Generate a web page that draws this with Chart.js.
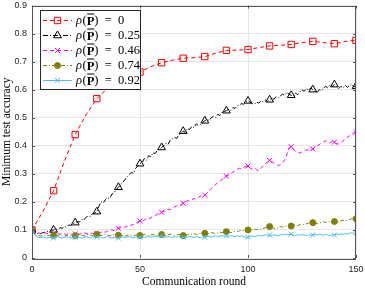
<!DOCTYPE html>
<html>
<head>
<meta charset="utf-8">
<script src="https://cdn.jsdelivr.net/npm/chart.js@4.4.1/dist/chart.umd.min.js"></script>
<style>
  html, body { margin: 0; padding: 0; background: #fff; }
  #wrap { width: 365px; height: 289px; }
</style>
</head>
<body>
<div id="wrap"><canvas id="graficoAcuracia"></canvas></div>
<script>
// Rodadas de comunicação (eixo x)
const rounds = [
  0, 1, 2, 3, 4, 5, 6, 7, 8, 9,
  10, 11, 12, 13, 14, 15, 16, 17, 18, 19,
  20, 21, 22, 23, 24, 25, 26, 27, 28, 29,
  30, 31, 32, 33, 34, 35, 36, 37, 38, 39,
  40, 41, 42, 43, 44, 45, 46, 47, 48, 49,
  50, 51, 52, 53, 54, 55, 56, 57, 58, 59,
  60, 61, 62, 63, 64, 65, 66, 67, 68, 69,
  70, 71, 72, 73, 74, 75, 76, 77, 78, 79,
  80, 81, 82, 83, 84, 85, 86, 87, 88, 89,
  90, 91, 92, 93, 94, 95, 96, 97, 98, 99,
  100, 101, 102, 103, 104, 105, 106, 107, 108, 109,
  110, 111, 112, 113, 114, 115, 116, 117, 118, 119,
  120, 121, 122, 123, 124, 125, 126, 127, 128, 129,
  130, 131, 132, 133, 134, 135, 136, 137, 138, 139,
  140, 141, 142, 143, 144, 145, 146, 147, 148, 149,
  150
];
const roundsRho0 = [0, 5, 10, 15, 20, 25, 30, 35, 40, 45, 50, 55, 60, 65, 70, 75,
  80, 85, 90, 95, 100, 105, 110, 115, 120, 125, 130, 135, 140, 145, 150];

// rho(P) = 0
const accRho0 = [0.100, 0.165, 0.240, 0.345, 0.440, 0.510, 0.568, 0.605, 0.628, 0.648,
  0.663, 0.682, 0.696, 0.705, 0.712, 0.714, 0.718, 0.730, 0.740, 0.741,
  0.743, 0.750, 0.756, 0.758, 0.761, 0.768, 0.772, 0.768, 0.764, 0.772, 0.776];

// rho(P) = 0.25
const accRho025 = [
  0.100, 0.090, 0.086, 0.088, 0.087, 0.090, 0.092, 0.094, 0.096, 0.098,
  0.100, 0.104, 0.102, 0.108, 0.106, 0.112, 0.110, 0.118, 0.116, 0.122,
  0.126, 0.130, 0.128, 0.138, 0.135, 0.145, 0.150, 0.148, 0.158, 0.160,
  0.165, 0.185, 0.200, 0.196, 0.208, 0.215, 0.212, 0.228, 0.232, 0.245,
  0.252, 0.262, 0.270, 0.278, 0.290, 0.298, 0.305, 0.302, 0.320, 0.328,
  0.336, 0.340, 0.355, 0.348, 0.365, 0.360, 0.375, 0.372, 0.384, 0.388,
  0.394, 0.400, 0.410, 0.405, 0.420, 0.425, 0.430, 0.426, 0.440, 0.445,
  0.452, 0.448, 0.462, 0.458, 0.470, 0.465, 0.478, 0.472, 0.476, 0.484,
  0.489, 0.495, 0.490, 0.500, 0.505, 0.500, 0.512, 0.508, 0.520, 0.522,
  0.525, 0.530, 0.526, 0.536, 0.533, 0.542, 0.546, 0.550, 0.548, 0.556,
  0.560, 0.555, 0.550, 0.548, 0.556, 0.552, 0.560, 0.556, 0.564, 0.558,
  0.564, 0.570, 0.566, 0.575, 0.570, 0.578, 0.584, 0.580, 0.590, 0.584,
  0.580, 0.576, 0.588, 0.582, 0.592, 0.600, 0.594, 0.604, 0.598, 0.606,
  0.600, 0.594, 0.590, 0.600, 0.596, 0.606, 0.612, 0.606, 0.618, 0.612,
  0.618, 0.610, 0.604, 0.612, 0.606, 0.616, 0.608, 0.614, 0.620, 0.610,
  0.612
];

// rho(P) = 0.46
const accRho046 = [
  0.100, 0.092, 0.088, 0.090, 0.086, 0.088, 0.090, 0.087, 0.089, 0.086,
  0.088, 0.090, 0.086, 0.085, 0.088, 0.086, 0.084, 0.087, 0.085, 0.083,
  0.086, 0.088, 0.085, 0.087, 0.090, 0.088, 0.085, 0.087, 0.089, 0.086,
  0.088, 0.090, 0.092, 0.094, 0.092, 0.096, 0.098, 0.100, 0.098, 0.104,
  0.106, 0.108, 0.106, 0.110, 0.114, 0.112, 0.118, 0.120, 0.124, 0.128,
  0.132, 0.130, 0.136, 0.140, 0.138, 0.144, 0.148, 0.152, 0.156, 0.160,
  0.163, 0.166, 0.170, 0.174, 0.172, 0.178, 0.182, 0.186, 0.184, 0.190,
  0.195, 0.200, 0.204, 0.202, 0.208, 0.212, 0.210, 0.216, 0.220, 0.222,
  0.224, 0.232, 0.240, 0.248, 0.256, 0.262, 0.268, 0.274, 0.280, 0.286,
  0.292, 0.296, 0.300, 0.306, 0.310, 0.316, 0.320, 0.318, 0.324, 0.326,
  0.328, 0.320, 0.316, 0.322, 0.314, 0.312, 0.320, 0.328, 0.336, 0.342,
  0.348, 0.344, 0.338, 0.334, 0.330, 0.332, 0.340, 0.350, 0.370, 0.392,
  0.397, 0.388, 0.380, 0.376, 0.374, 0.378, 0.382, 0.386, 0.384, 0.388,
  0.389, 0.395, 0.400, 0.404, 0.410, 0.413, 0.418, 0.414, 0.410, 0.416,
  0.413, 0.408, 0.406, 0.412, 0.418, 0.424, 0.430, 0.436, 0.442, 0.446,
  0.448
];

// rho(P) = 0.74
const accRho074 = [
  0.100, 0.088, 0.082, 0.080, 0.078, 0.080, 0.082, 0.079, 0.081, 0.083,
  0.080, 0.078, 0.081, 0.083, 0.080, 0.078, 0.080, 0.082, 0.079, 0.077,
  0.079, 0.082, 0.084, 0.081, 0.079, 0.082, 0.084, 0.082, 0.080, 0.083,
  0.084, 0.082, 0.080, 0.082, 0.084, 0.081, 0.079, 0.081, 0.083, 0.080,
  0.081, 0.083, 0.080, 0.078, 0.081, 0.083, 0.081, 0.079, 0.082, 0.080,
  0.080, 0.082, 0.084, 0.081, 0.079, 0.082, 0.084, 0.082, 0.080, 0.083,
  0.084, 0.082, 0.080, 0.083, 0.085, 0.082, 0.080, 0.082, 0.084, 0.081,
  0.080, 0.082, 0.084, 0.082, 0.085, 0.087, 0.084, 0.086, 0.088, 0.086,
  0.088, 0.086, 0.088, 0.091, 0.089, 0.087, 0.090, 0.092, 0.090, 0.092,
  0.094, 0.092, 0.090, 0.093, 0.096, 0.094, 0.097, 0.099, 0.097, 0.099,
  0.100, 0.098, 0.101, 0.103, 0.101, 0.104, 0.102, 0.105, 0.108, 0.110,
  0.112, 0.110, 0.106, 0.104, 0.108, 0.112, 0.110, 0.113, 0.115, 0.113,
  0.114, 0.116, 0.118, 0.116, 0.119, 0.121, 0.119, 0.122, 0.124, 0.125,
  0.126, 0.124, 0.122, 0.125, 0.127, 0.129, 0.127, 0.130, 0.128, 0.131,
  0.130, 0.132, 0.130, 0.133, 0.135, 0.133, 0.135, 0.137, 0.140, 0.143,
  0.140
];

// rho(P) = 0.92
const accRho092 = [
  0.100, 0.085, 0.078, 0.074, 0.072, 0.075, 0.073, 0.071, 0.074, 0.072,
  0.071, 0.074, 0.076, 0.073, 0.071, 0.074, 0.076, 0.073, 0.071, 0.073,
  0.074, 0.076, 0.073, 0.071, 0.074, 0.076, 0.074, 0.072, 0.075, 0.073,
  0.074, 0.076, 0.073, 0.071, 0.074, 0.076, 0.073, 0.071, 0.073, 0.072,
  0.071, 0.074, 0.076, 0.073, 0.075, 0.077, 0.074, 0.072, 0.075, 0.073,
  0.074, 0.076, 0.073, 0.075, 0.077, 0.074, 0.076, 0.078, 0.075, 0.077,
  0.079, 0.076, 0.074, 0.077, 0.075, 0.073, 0.076, 0.074, 0.076, 0.073,
  0.074, 0.076, 0.074, 0.077, 0.075, 0.073, 0.076, 0.074, 0.072, 0.075,
  0.073, 0.076, 0.078, 0.075, 0.077, 0.079, 0.076, 0.078, 0.080, 0.077,
  0.079, 0.077, 0.080, 0.078, 0.076, 0.079, 0.077, 0.079, 0.076, 0.074,
  0.074, 0.077, 0.079, 0.076, 0.078, 0.080, 0.078, 0.081, 0.083, 0.080,
  0.082, 0.080, 0.083, 0.081, 0.079, 0.082, 0.084, 0.082, 0.085, 0.083,
  0.085, 0.082, 0.080, 0.083, 0.081, 0.084, 0.082, 0.080, 0.083, 0.081,
  0.082, 0.084, 0.082, 0.085, 0.083, 0.081, 0.084, 0.082, 0.080, 0.083,
  0.082, 0.085, 0.083, 0.086, 0.084, 0.087, 0.085, 0.088, 0.090, 0.088,
  0.090
];

// Valores de rho(P) da legenda
const rhoLabels = ['0', '0.25', '0.46', '0.74', '0.92'];

const pts = (xs, ys) => xs.map((x, i) => ({ x: x, y: ys[i] }));
const cada10 = r => ctx => (ctx.raw && ctx.raw.x % 10 === 0 ? r : 0);

function serie(i, xs, ys, cor, tracejado, estilo, tam, fundo, ordem) {
  return {
    label: 'ρ(P̅) = ' + rhoLabels[i],
    data: pts(xs, ys),
    borderColor: cor,
    borderWidth: 1,
    borderDash: tracejado,
    pointStyle: estilo,
    pointRadius: cada10(tam),
    pointHoverRadius: 0,
    pointBorderWidth: 1,
    pointBorderColor: cor,
    pointBackgroundColor: fundo,
    markerSize: tam,
    tension: 0,
    fill: false,
    order: ordem
  };
}

// Moldura e marcas internas (estilo MATLAB)
const moldura = {
  id: 'moldura',
  afterDatasetsDraw(chart) {
    const { ctx, chartArea: a, scales } = chart;
    ctx.save();
    ctx.strokeStyle = '#555';
    ctx.lineWidth = 1;
    ctx.strokeRect(Math.round(a.left) + 0.5, Math.round(a.top) + 0.5,
      Math.round(a.right - a.left) - 1, Math.round(a.bottom - a.top));
    ctx.beginPath();
    scales.y.ticks.forEach(t => {
      const y = Math.round(scales.y.getPixelForValue(t.value)) + 0.5;
      ctx.moveTo(a.left, y); ctx.lineTo(a.left + 3, y);
      ctx.moveTo(a.right, y); ctx.lineTo(a.right - 3, y);
    });
    scales.x.ticks.forEach(t => {
      const x = Math.round(scales.x.getPixelForValue(t.value)) + 0.5;
      ctx.moveTo(x, a.bottom); ctx.lineTo(x, a.bottom - 3);
      ctx.moveTo(x, a.top); ctx.lineTo(x, a.top + 3);
    });
    ctx.stroke();
    ctx.restore();
  }
};

// Legenda dentro da área do gráfico
const legenda = {
  id: 'legenda',
  afterDraw(chart) {
    const ctx = chart.ctx;
    const x0 = 40.5, y0 = 10.5, w = 100, h = 79;
    ctx.save();
    ctx.fillStyle = '#fff';
    ctx.fillRect(x0, y0, w, h);
    ctx.strokeStyle = '#262626';
    ctx.lineWidth = 1;
    ctx.strokeRect(x0, y0, w, h);
    chart.data.datasets.forEach((ds, i) => {
      const y = 20.5 + i * 15;
      ctx.strokeStyle = ds.borderColor;
      ctx.lineWidth = 1;
      ctx.setLineDash(ds.borderDash || []);
      ctx.beginPath();
      ctx.moveTo(43, y);
      ctx.lineTo(72, y);
      ctx.stroke();
      ctx.setLineDash([]);
      ctx.fillStyle = ds.pointBackgroundColor;
      Chart.helpers.drawPoint(ctx, {
        pointStyle: ds.pointStyle, radius: ds.markerSize, borderWidth: 1, rotation: 0
      }, 57.5, y);

      let tx = 76;
      ctx.fillStyle = '#000';
      ctx.textBaseline = 'middle';
      ctx.font = 'italic 12.5px "Liberation Serif"';
      ctx.fillText('ρ', tx, y);
      tx += ctx.measureText('ρ').width + 0.5;
      ctx.font = '12.5px "Liberation Serif"';
      ctx.fillText('(', tx, y);
      tx += ctx.measureText('(').width;
      ctx.font = 'bold 12.5px "Liberation Serif"';
      ctx.fillText('P', tx, y + 1);
      const wp = ctx.measureText('P').width;
      ctx.strokeStyle = '#000';
      ctx.beginPath();
      ctx.moveTo(tx + 0.5, y - 6.5);
      ctx.lineTo(tx + wp, y - 6.5);
      ctx.stroke();
      tx += wp;
      ctx.font = '12.5px "Liberation Serif"';
      ctx.fillText(')  =  ' + rhoLabels[i], tx, y);
    });
    ctx.restore();
  }
};

const fonteTicks = { family: '"Liberation Sans", Arial, sans-serif', size: 9 };
const fonteTitulo = { family: '"Liberation Serif", "Times New Roman", serif', size: 11.5 };

const ctxAcc = document.getElementById('graficoAcuracia').getContext('2d');
new Chart(ctxAcc, {
  type: 'line',
  data: {
    datasets: [
      serie(0, roundsRho0, accRho0, '#ff0000', [4, 3], 'rect', 4.5, 'rgba(0,0,0,0)', 5),
      serie(1, rounds, accRho025, '#000000', [5, 2, 1, 2], 'triangle', 4.5, 'rgba(0,0,0,0)', 4),
      serie(2, rounds, accRho046, '#ff00ff', [4, 3], 'crossRot', 3.5, 'rgba(0,0,0,0)', 3),
      serie(3, rounds, accRho074, '#808000', [4, 2, 1, 2], 'circle', 3, '#808000', 2),
      serie(4, rounds, accRho092, '#4dbeee', [], 'crossRot', 3.5, 'rgba(0,0,0,0)', 1)
    ]
  },
  options: {
    responsive: true,
    maintainAspectRatio: false,
    animation: false,
    layout: { padding: { left: 0, right: 9, top: 4, bottom: 0 } },
    plugins: {
      legend: { display: false },
      tooltip: { enabled: false }
    },
    scales: {
      x: {
        type: 'linear',
        min: 0,
        max: 150,
        ticks: { stepSize: 50, font: fonteTicks, color: '#262626', padding: 6, maxRotation: 0 },
        grid: { color: '#e6e6e6', drawTicks: false },
        border: { display: false },
        title: { display: true, text: 'Communication round', font: fonteTitulo, color: '#000', padding: { top: 0, bottom: 0 } },
        afterFit: s => { s.height = 31; s.paddingLeft = 0; s.paddingRight = 0; }
      },
      y: {
        min: 0,
        max: 0.9,
        ticks: { stepSize: 0.1, font: fonteTicks, color: '#262626', padding: 5 },
        grid: { color: '#e6e6e6', drawTicks: false },
        border: { display: false },
        title: { display: true, text: 'Minimum test accuracy', font: fonteTitulo, color: '#000', padding: { top: 0, bottom: 0 } },
        afterFit: s => { s.width = 32; s.paddingTop = 0; s.paddingBottom = 0; }
      }
    }
  },
  plugins: [moldura, legenda]
});
</script>
</body>
</html>
